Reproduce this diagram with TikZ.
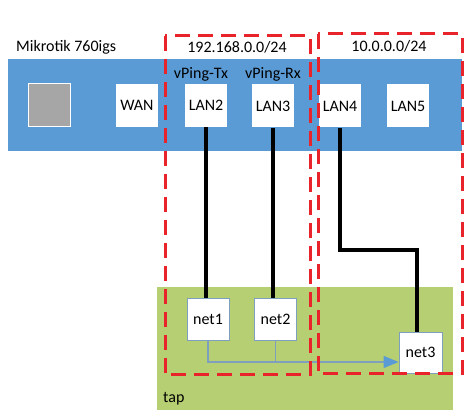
\documentclass[tikz,border=0pt]{standalone}
\usepackage{fontspec}
\setmainfont{Carlito}
\usetikzlibrary{arrows.meta}
\definecolor{barblue}{HTML}{5B9BD5}
\definecolor{tapgreen}{HTML}{B5CF72}
\definecolor{portgray}{HTML}{A6A6A6}
\definecolor{dashred}{HTML}{E8232A}
\definecolor{linkblue}{HTML}{7F9FBF}
\tikzset{
  txt/.style={font=\fontsize{16}{19}\selectfont, inner sep=0pt},
  port/.style={txt, fill=white, minimum width=42pt, minimum height=43pt, inner sep=0pt},
  netbox/.style={txt, fill=white, draw=linkblue, line width=0.8pt, minimum width=42pt, minimum height=42pt},
  wire/.style={line width=4pt, black},
  vlan/.style={draw=dashred, line width=3pt, dash pattern=on 15pt off 8pt},
  tapline/.style={linkblue, line width=1.2pt},
}
\begin{document}
\begin{tikzpicture}[x=1pt,y=-1pt]
\useasboundingbox (0,0) rectangle (474,419);
% router bar and tap area
\fill[barblue] (8,59) rectangle (462,151);
\fill[tapgreen] (157,287) rectangle (453,410);
% labels
\node[txt, anchor=west] (mk) at (16,47) {Mikrotik 760igs};
\node[txt] (sub1) at (237,47) {192.168.0.0/24};
\node[txt] (sub2) at (389,46) {10.0.0.0/24};
\node[txt] (tx) at (201,74) {vPing-Tx};
\node[txt] (rx) at (273,74) {vPing-Rx};
\node[txt, anchor=west] (tap) at (163,399) {tap};
% ports
\node[port, fill=portgray, draw=white, line width=1pt] (sq) at (49,105.5) {};
\node[port] (wan) at (137,105.5) {WAN};
\node[port] (lan2) at (206,105.5) {LAN2};
\node[port] (lan3) at (273,106) {LAN3};
\node[port] (lan4) at (340,106) {LAN4};
\node[port] (lan5) at (408,106) {LAN5};
% tap nets
\node[netbox] (net1) at (208,319) {net1};
\node[netbox] (net2) at (275.5,319) {net2};
\node[netbox, minimum width=43pt, minimum height=41pt] (net3) at (420.5,352.5) {net3};
\coordinate (n3in) at ([yshift=-9.5pt]net3.west);
% thin tap links
\draw[tapline] (net2.south) -- (net2.south |- n3in);
\draw[tapline, -{Triangle[length=15pt,width=12pt,color=barblue]}] (net1.south) |- (n3in);
% red dashed groups
\draw[vlan] (165,36) rectangle (310,375);
\draw[vlan] (318,34) rectangle (462,374);
% thick links
\coordinate (bend) at (417,250);
\draw[wire] (lan2.south) -- (lan2.south |- net1.north);
\draw[wire] (lan3.south) -- (lan3.south |- net2.north);
\draw[wire] (lan4.south) |- (bend) -- (bend |- net3.north);
\end{tikzpicture}
\end{document}
